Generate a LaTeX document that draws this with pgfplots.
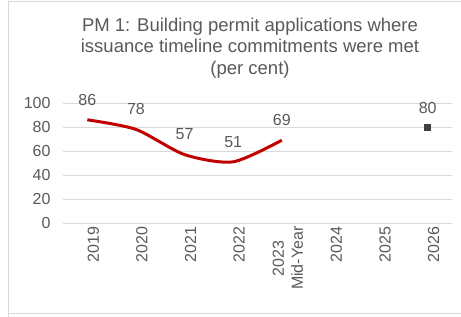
\documentclass[border=0pt]{standalone}
\usepackage{fontspec}
\setmainfont{Liberation Sans}
\usepackage{pgfplots}
\pgfplotsset{compat=1.18}
\definecolor{txt}{RGB}{89,89,89}
\definecolor{gridc}{RGB}{217,217,217}
\definecolor{redline}{RGB}{192,0,0}
\definecolor{sq}{RGB}{64,64,64}
\begin{document}
\begin{tikzpicture}[x=1bp,y=1bp]
\useasboundingbox (0,0) rectangle (461,316);
\draw[gridc, line width=1.2bp] (8.5,-5) -- (8.5,314.5) -- (470,314.5);
\draw[gridc, line width=1bp] (8.5,3) -- (470,3);
\node[txt, align=center, font=\fontsize{18.5bp}{21.5bp}\selectfont] at (250,316-48) {PM 1: Building permit applications where\\issuance timeline commitments were met\\(per cent)};
\begin{axis}[at={(63bp,93bp)}, anchor=south west, scale only axis,
  width=389bp, height=120bp,
  xmin=-0.5, xmax=7.5, ymin=0, ymax=100,
  ytick={0,20,...,100}, xtick={0,...,7},
  xticklabels={2019,2020,2021,2022,{2023\\Mid-Year},2024,2025,2026},
  x tick label style={rotate=90, anchor=east, align=center, yshift=-6bp, font=\fontsize{16bp}{19bp}\selectfont},
  y tick label style={xshift=-9bp},
  ymajorgrids, grid style={gridc, line width=1bp},
  axis line style={draw=none}, major tick length=0pt,
  tick label style={txt, font=\fontsize{16bp}{19bp}\selectfont},
  /pgf/number format/assume math mode=true,
  clip=false,
  nodes near coords,
  every node near coord/.style={txt, anchor=south, inner sep=0pt, yshift=13bp, font=\fontsize{16bp}{19bp}\selectfont},
]
\addplot[redline, line width=3bp, smooth, tension=0.45, mark=none] coordinates {(0,86) (1,78) (2,57) (3,51) (4,69)};
\addplot[only marks, mark=square*, mark size=3bp, sq] coordinates {(7,80)};
\end{axis}
\end{tikzpicture}
\end{document}
